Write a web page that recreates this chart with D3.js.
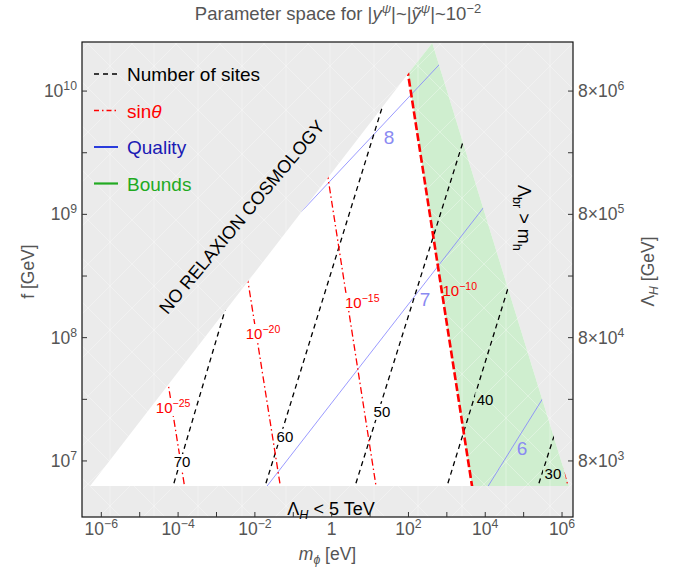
<!DOCTYPE html>
<html>
<head>
<meta charset="utf-8">
<script src="https://cdn.jsdelivr.net/npm/d3@7"></script>
<style>
  body { margin: 0; background: #fff; }
  text { font-family: "Liberation Sans", Arial, sans-serif; }
</style>
</head>
<body>
<svg id="chart" width="689" height="575"></svg>
<script>
// ---- data (m_phi in eV, f in GeV) ----
const xDomain = [3.14e-7, 1.93e6]
const yDomain = [3.51e6, 2.5e10]
const lambdaPerF = 8e-4          // Lambda_H = 8e-4 * f

const xTicks = [1e-6, 1e-5, 1e-4, 1e-3, 1e-2, 1e-1, 1, 1e1, 1e2, 1e3, 1e4, 1e5, 1e6]
const xTickLabels = [["10","−6"], null, ["10","−4"], null, ["10","−2"], null, ["1",""], null, ["10","2"], null, ["10","4"], null, ["10","6"]]
const yTicks = [1e7, 1e8, 1e9, 1e10]
const yTickLabels = [["10","7"], ["10","8"], ["10","9"], ["10","10"]]
const yMinorTicks = [3.16e7, 3.16e8, 3.16e9]
const lambdaTicks = [8e3, 8e4, 8e5, 8e6]
const lambdaTickLabels = [["8×10","3"], ["8×10","4"], ["8×10","5"], ["8×10","6"]]

// allowed region (white + green) and the bounds (green) part
const allowedRegion = [[5.1e-7, 6.25e6], [97.5, 1.38e10], [417, 2.45e10], [1.51e6, 6.25e6]]
const boundsRegion = [[97.5, 1.38e10], [417, 2.45e10], [1.51e6, 6.25e6], [4530, 6.25e6]]

// number of sites contours
const sitesValues = ["70", "60", "50", "40", "30"]
const sitesFrom = [[7.4e-5, 6.25e6], [1.84e-2, 6.25e6], [4.06, 6.25e6], [1010, 6.25e6], [2.37e5, 6.25e6]]
const sitesTo = [[2.0e-3, 2.02e8], [19.3, 6.9e9], [2490, 3.66e9], [3.93e4, 2.53e8], [6.58e5, 1.69e7]]
const sitesLabelAt = [[1.27e-4, 9.8e6], [0.0607, 1.57e7], [20.4, 2.5e7], [9900, 3.1e7], [5.8e5, 7.85e6]]

// sin(theta) contours
const sinExps = ["−25", "−20", "−15", "−10", "−5"]
const sinFrom = [[5.46e-5, 4.3e7], [6.64e-3, 2.83e8], [0.803, 1.97e9], [97.5, 1.38e10], [1.1e6, 9.5e6]]
const sinTo = [[1.47e-4, 6.25e6], [0.046, 6.25e6], [14.3, 6.25e6], [4530, 6.25e6], [1.42e6, 6.25e6]]
const sinLabelAt = [[7.4e-5, 2.74e7], [0.01626, 1.09e8], [6.27, 1.95e8], [2170, 2.44e8], null]

// quality contours
const qualityValues = ["8", "7", "6"]
const qualityFrom = [[0.202, 1.13e9], [0.0207, 6.25e6], [1.19e4, 6.25e6]]
const qualityTo = [[624, 1.63e10], [9330, 1.15e9], [3.21e5, 3.24e7]]
const qualityLabelAt = [[31.2, 4.25e9], [269, 2.05e8], [9.1e4, 1.27e7]]

const legendNames = [[["Number of sites",""]], [["sin",""],["θ","it"]], [["Quality",""]], [["Bounds",""]]]

// ---- drawing ----
const width = 689, height = 575
const marging = {top: 42, left: 82, right: 116, bottom: 58}
const pl = marging.left, pr = width - marging.right, pt0 = marging.top, pb = height - marging.bottom

const svg = d3.select("#chart")
const defs = svg.append("defs")
const x = d3.scaleLog().domain(xDomain).range([pl, pr])
const y = d3.scaleLog().domain(yDomain).range([pb, pt0])
const yR = d3.scaleLog().domain(yDomain.map(v => v * lambdaPerF)).range([pb, pt0])
const P = d => [x(d[0]), y(d[1])]
const poly = arr => d3.line()(arr.map(P)) + "Z"

function rich(t, parts, fs) {
  let shift = 0
  parts.forEach(([s, mode]) => {
    const span = t.append("tspan").text(s)
    let target = 0, size = fs
    if (mode.includes("sup")) { target = -fs * 0.4; size = fs * 0.7 }
    if (mode.includes("sub")) { target = fs * 0.25; size = fs * 0.7 }
    if (mode.includes("it")) span.attr("font-style", "italic")
    span.attr("font-size", size)
    if (target !== shift) { span.attr("dy", target - shift); shift = target }
  })
  return t
}

// faint mesh texture like the original region plot
const pat = defs.append("pattern").attr("id", "mesh").attr("patternUnits", "userSpaceOnUse")
  .attr("width", 44).attr("height", 44)
pat.append("path").attr("d", "M0,44L44,0M0,0L44,44M22,0V44")
  .attr("stroke", "#fff").attr("stroke-width", 0.7).attr("stroke-opacity", 0.45).attr("fill", "none")

svg.append("rect").attr("x", pl).attr("y", pt0).attr("width", pr - pl).attr("height", pb - pt0).attr("fill", "#ebebeb")
svg.append("rect").attr("x", pl).attr("y", pt0).attr("width", pr - pl).attr("height", pb - pt0).attr("fill", "url(#mesh)")
svg.append("path").attr("d", poly(allowedRegion)).attr("fill", "#ffffff")
svg.append("path").attr("d", poly(boundsRegion)).attr("fill", "#cfeecf")
svg.append("path").attr("d", poly(boundsRegion)).attr("fill", "url(#mesh)")

defs.append("clipPath").attr("id", "allowed").append("path").attr("d", poly(allowedRegion))
const mask = defs.append("mask").attr("id", "labelGaps").attr("maskUnits", "userSpaceOnUse")
  .attr("x", 0).attr("y", 0).attr("width", width).attr("height", height)
mask.append("rect").attr("width", width).attr("height", height).attr("fill", "#fff")

const lines = svg.append("g").attr("clip-path", "url(#allowed)")
  .append("g").attr("mask", "url(#labelGaps)")

function seg(from, to) {
  const a = P(from), b = P(to)
  const L = Math.hypot(b[0] - a[0], b[1] - a[1]), ux = (b[0] - a[0]) / L, uy = (b[1] - a[1]) / L
  return lines.append("line")
    .attr("x1", a[0] - ux * 6).attr("y1", a[1] - uy * 6)
    .attr("x2", b[0] + ux * 6).attr("y2", b[1] + uy * 6)
    .attr("fill", "none")
}

qualityValues.forEach((q, i) => {
  seg(qualityFrom[i], qualityTo[i]).attr("stroke", "#8080ff").attr("stroke-width", 0.8)
})
sitesValues.forEach((n, i) => {
  seg(sitesFrom[i], sitesTo[i]).attr("stroke", "#000").attr("stroke-width", 1.3).attr("stroke-dasharray", "5,4")
})
sinExps.forEach((e, i) => {
  const l = seg(sinFrom[i], sinTo[i]).attr("stroke", "#ff0000")
  if (e === "−10") l.attr("stroke-width", 2.6).attr("stroke-dasharray", "8,3")
  else l.attr("stroke-width", 1.3).attr("stroke-dasharray", "7,3,1.5,3")
})

const labels = svg.append("g")
const gapLabels = []
sitesValues.forEach((n, i) => {
  const p = P(sitesLabelAt[i])
  const t = labels.append("text").attr("x", p[0]).attr("y", p[1] + 5).attr("text-anchor", "middle")
    .attr("font-size", 15).attr("fill", "#000").text(n)
  gapLabels.push(t)
})
sinExps.forEach((e, i) => {
  if (!sinLabelAt[i]) return
  const p = P(sinLabelAt[i])
  const t = labels.append("text").attr("x", p[0]).attr("y", p[1] + 6).attr("text-anchor", "middle").attr("fill", "#ff0000")
  rich(t, [["10", ""], [e, "sup"]], 15)
  if (e !== "−10") gapLabels.push(t)
})
qualityValues.forEach((q, i) => {
  const p = P(qualityLabelAt[i])
  labels.append("text").attr("x", p[0]).attr("y", p[1] + 7).attr("text-anchor", "middle")
    .attr("font-size", 19).attr("fill", "#8a8af2").text(q)
})
gapLabels.forEach(t => {
  const b = t.node().getBBox()
  mask.append("rect").attr("x", b.x - 1.5).attr("y", b.y + 1).attr("width", b.width + 3).attr("height", b.height - 1).attr("fill", "#000")
})

// region annotations
const noRelax = P([4.6e-3, 9.5e8])
svg.append("text").attr("transform", `translate(${noRelax[0]},${noRelax[1]}) rotate(-50)`)
  .attr("text-anchor", "middle").attr("dy", 6).attr("font-size", 18).attr("fill", "#000").text("NO RELAXION COSMOLOGY")
const brPos = P([7.1e4, 9.35e8])
rich(svg.append("text").attr("transform", `translate(${brPos[0]},${brPos[1]}) rotate(90)`)
  .attr("text-anchor", "middle").attr("fill", "#000"),
  [["Λ", ""], ["br", "sub"], [" > m", ""], ["h", "sub"]], 18)
const lamPos = P([0.96, 4.48e6])
rich(svg.append("text").attr("x", lamPos[0]).attr("y", lamPos[1] + 11).attr("text-anchor", "middle").attr("fill", "#000"),
  [["Λ", ""], ["H", "subit"], [" < 5 TeV", ""]], 18)

// frame and ticks
const axisColor = "#555"
svg.append("rect").attr("x", pl).attr("y", pt0).attr("width", pr - pl).attr("height", pb - pt0)
  .attr("fill", "none").attr("stroke", "#111").attr("stroke-width", 1.2)
const ticks = svg.append("g").attr("stroke", "#333").attr("stroke-width", 1)
xTicks.forEach((v, i) => {
  ticks.append("line").attr("x1", x(v)).attr("x2", x(v)).attr("y1", pb).attr("y2", pb - 5)
  if (xTickLabels[i]) rich(svg.append("text").attr("x", x(v)).attr("y", pb + 18).attr("text-anchor", "middle").attr("fill", axisColor),
    [[xTickLabels[i][0], ""], [xTickLabels[i][1], "sup"]], 17.5)
})
yTicks.concat(yMinorTicks).forEach(v => {
  ticks.append("line").attr("x1", pl).attr("x2", pl + 5).attr("y1", y(v)).attr("y2", y(v))
  ticks.append("line").attr("x1", pr).attr("x2", pr - 5).attr("y1", y(v)).attr("y2", y(v))
})
yTicks.forEach((v, i) => {
  rich(svg.append("text").attr("x", pl - 5).attr("y", y(v) + 6).attr("text-anchor", "end").attr("fill", axisColor),
    [[yTickLabels[i][0], ""], [yTickLabels[i][1], "sup"]], 17.5)
})
lambdaTicks.forEach((v, i) => {
  rich(svg.append("text").attr("x", pr + 5).attr("y", yR(v) + 6).attr("text-anchor", "start").attr("fill", axisColor),
    [[lambdaTickLabels[i][0], ""], [lambdaTickLabels[i][1], "sup"]], 17.5)
})

// axis titles
rich(svg.append("text").attr("x", (pl + pr) / 2).attr("y", 560).attr("text-anchor", "middle").attr("fill", axisColor),
  [["m", "it"], ["ϕ", "subit"], [" [eV]", ""]], 17.5)
svg.append("text").attr("transform", `translate(34,${(pt0 + pb) / 2 - 8}) rotate(-90)`).attr("text-anchor", "middle")
  .attr("font-size", 17.5).attr("fill", axisColor).text("f [GeV]")
rich(svg.append("text").attr("transform", `translate(654,${(pt0 + pb) / 2 - 8}) rotate(-90)`).attr("text-anchor", "middle").attr("fill", axisColor),
  [["Λ", ""], ["H", "subit"], [" [GeV]", ""]], 17.5)
rich(svg.append("text").attr("x", 338).attr("y", 20).attr("text-anchor", "middle").attr("fill", axisColor),
  [["Parameter space for |", ""], ["y", "it"], ["ψ", "supit"], ["|~|", ""], ["ỹ", "it"], ["ψ", "supit"], ["|~10", ""], ["−2", "sup"]], 18.5)

// legend
const legendColors = ["#000000", "#ff0000", "#1a1ab4", "#1faa1f"]
const legend = svg.append("g")
legendNames.forEach((parts, i) => {
  const ly = 74 + i * 36.5
  const l = legend.append("line").attr("x1", 94).attr("x2", 118).attr("y1", ly).attr("y2", ly)
  if (i === 0) l.attr("stroke", "#000").attr("stroke-width", 1.6).attr("stroke-dasharray", "5,4")
  if (i === 1) l.attr("stroke", "#ff0000").attr("stroke-width", 1.6).attr("stroke-dasharray", "5,3,1.5,3")
  if (i === 2) l.attr("stroke", "#2a3cdc").attr("stroke-width", 2)
  if (i === 3) l.attr("stroke", "#22aa22").attr("stroke-width", 2.2)
  rich(legend.append("text").attr("x", 127).attr("y", ly + 7).attr("fill", legendColors[i]), parts, 19)
})
</script>
</body>
</html>
